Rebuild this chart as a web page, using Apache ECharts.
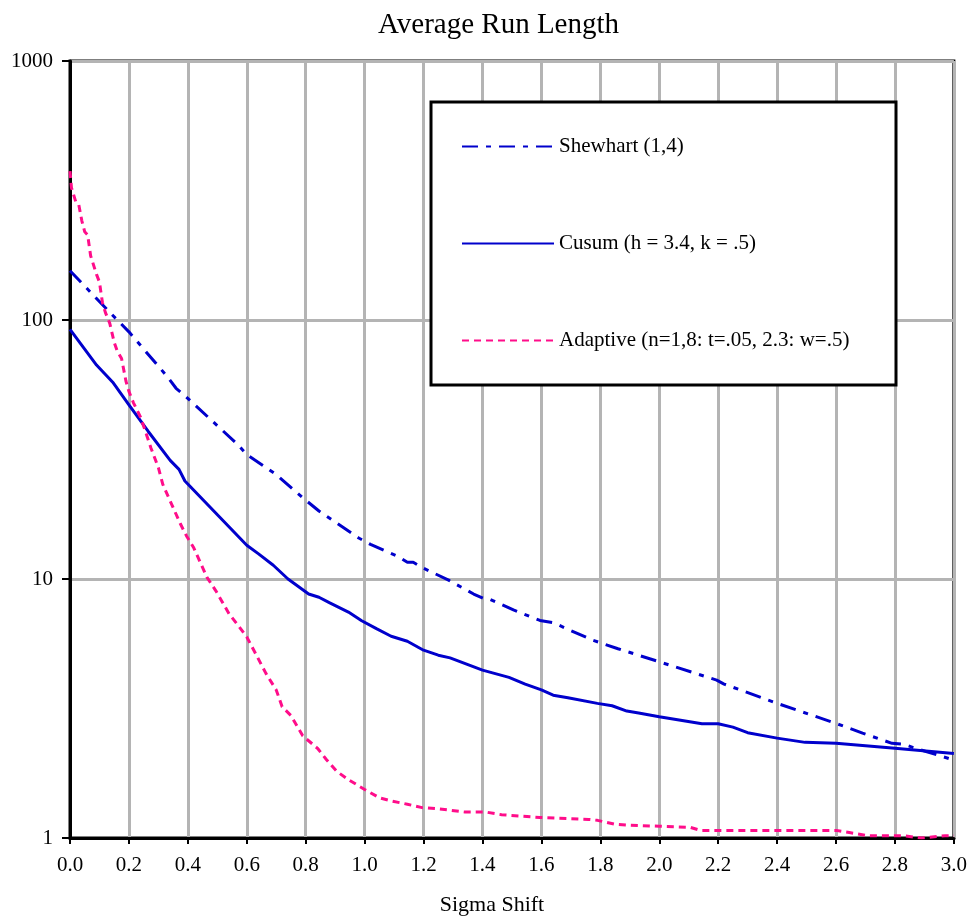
<!DOCTYPE html>
<html>
<head>
<meta charset="utf-8">
<script src="https://cdn.jsdelivr.net/npm/echarts@6/dist/echarts.min.js"></script>
<style>
html,body{margin:0;padding:0;background:#fff;}
#chart{width:970px;height:921px;}
</style>
</head>
<body>
<div id="chart"></div>
<script>
// ---- Data ----
const xTickLabels = ['0.0','0.2','0.4','0.6','0.8','1.0','1.2','1.4','1.6','1.8','2.0','2.2','2.4','2.6','2.8','3.0'];
const yTickLabels = ['1','10','100','1000'];
const seriesNames = ['Shewhart (1,4)', 'Cusum (h = 3.4, k = .5)', 'Adaptive (n=1,8: t=.05, 2.3: w=.5)'];

const shewhartX = [0, 0.135, 0.2, 0.33, 0.36, 0.39, 0.57, 0.6, 0.7, 0.79, 0.845, 0.98, 1.02, 1.115, 1.145, 1.165, 1.2, 1.285, 1.37, 1.41, 1.425, 1.505, 1.595, 1.645, 1.685, 1.775, 1.86, 2.0, 2.195, 2.22, 2.4, 2.6, 2.69, 2.79, 2.83, 2.87, 3.0];
const shewhartY = [155, 107, 90, 60.5, 54.5, 51, 33, 30.2, 25.3, 20.6, 18.3, 14.4, 13.6, 12.2, 11.6, 11.6, 11.0, 9.9, 8.75, 8.35, 8.35, 7.6, 6.92, 6.76, 6.43, 5.8, 5.38, 4.79, 4.07, 3.93, 3.31, 2.77, 2.54, 2.32, 2.3, 2.22, 2.0];

const cusumX = [0, 0.09, 0.145, 0.2, 0.265, 0.34, 0.37, 0.39, 0.6, 0.64, 0.69, 0.74, 0.81, 0.845, 0.88, 0.945, 0.99, 1.04, 1.09, 1.145, 1.2, 1.25, 1.29, 1.4, 1.49, 1.545, 1.6, 1.64, 1.69, 1.79, 1.84, 1.89, 1.93, 2.0, 2.145, 2.2, 2.25, 2.3, 2.4, 2.495, 2.6, 2.8, 3.0];
const cusumY = [92, 67, 57.5, 47, 37.2, 28.7, 26.5, 23.9, 13.5, 12.5, 11.3, 10.0, 8.75, 8.5, 8.1, 7.45, 6.9, 6.43, 6.01, 5.75, 5.31, 5.08, 4.96, 4.45, 4.17, 3.93, 3.73, 3.56, 3.48, 3.31, 3.24, 3.09, 3.04, 2.94, 2.76, 2.76, 2.68, 2.55, 2.43, 2.34, 2.32, 2.22, 2.12];

const adaptiveX = [0, 0.005, 0.02, 0.03, 0.04, 0.05, 0.06, 0.07, 0.09, 0.1, 0.11, 0.12, 0.135, 0.15, 0.16, 0.175, 0.19, 0.2, 0.215, 0.24, 0.26, 0.275, 0.3, 0.315, 0.34, 0.375, 0.395, 0.42, 0.445, 0.465, 0.495, 0.54, 0.575, 0.6, 0.63, 0.665, 0.7, 0.72, 0.75, 0.79, 0.84, 0.87, 0.905, 0.945, 1.0, 1.05, 1.09, 1.145, 1.195, 1.24, 1.34, 1.41, 1.465, 1.595, 1.76, 1.79, 1.85, 1.9, 2.0, 2.105, 2.14, 2.6, 2.645, 2.71, 2.83, 2.89, 2.97, 3.0];
const adaptiveY = [376, 324, 285, 278, 242, 219, 213, 177, 150, 140, 117, 107, 97, 82, 76, 71, 58, 53, 48, 42, 36, 32, 26.9, 23.2, 20, 16.3, 14.7, 13.2, 11.4, 10.15, 9.0, 7.34, 6.52, 5.97, 5.15, 4.32, 3.73, 3.21, 2.97, 2.48, 2.22, 2.01, 1.81, 1.68, 1.54, 1.43, 1.39, 1.35, 1.31, 1.30, 1.26, 1.26, 1.23, 1.20, 1.18, 1.17, 1.13, 1.12, 1.11, 1.10, 1.07, 1.07, 1.05, 1.02, 1.02, 1.0, 1.02, 1.02];

// ---- Build chart ----
const FONT = '"Liberation Serif", "Times New Roman", serif';
const pairs = (xs, ys) => xs.map((x, i) => [x, ys[i]]);

const chart = echarts.init(document.getElementById('chart'), null, {renderer: 'canvas'});
chart.setOption({
  animation: false,
  backgroundColor: '#fff',
  title: {
    text: 'Average Run Length',
    left: 373, top: 6,
    textStyle: {fontFamily: FONT, fontSize: 29, fontWeight: 'normal', color: '#000'}
  },
  grid: {
    left: 70, right: 12, top: 61, bottom: 79,
    show: true, borderColor: '#000', borderWidth: 3, backgroundColor: 'transparent'
  },
  xAxis: {
    type: 'value', min: 0, max: 3, interval: 0.2,
    name: 'Sigma Shift', nameLocation: 'middle', nameGap: 56,
    nameTextStyle: {fontFamily: FONT, fontSize: 22, color: '#000', padding: [0, 40, 0, 0]},
    axisLine: {show: true, onZero: false, lineStyle: {color: '#000', width: 3}},
    axisTick: {show: true, length: 6, lineStyle: {color: '#000', width: 2}},
    axisLabel: {
      fontFamily: FONT, fontSize: 21, color: '#000', margin: 17,
      formatter: v => xTickLabels[Math.round(v / 0.2)] || ''
    },
    splitLine: {show: true, lineStyle: {color: '#b4b4b4', width: 3}}
  },
  yAxis: {
    type: 'log', logBase: 10, min: 1, max: 1000,
    axisLine: {show: true, lineStyle: {color: '#000', width: 3}},
    axisTick: {show: true, length: 8, lineStyle: {color: '#000', width: 2}},
    axisLabel: {
      fontFamily: FONT, fontSize: 21, color: '#000', margin: 17,
      padding: [0, 0, 6, 0],
      formatter: v => yTickLabels[Math.round(Math.log10(v))] || ''
    },
    splitLine: {show: true, lineStyle: {color: '#b4b4b4', width: 3}},
    minorTick: {show: false}, minorSplitLine: {show: false}
  },
  graphic: [{
    type: 'rect', z: 10, zlevel: 0,
    shape: {x: 431, y: 102, width: 465, height: 283},
    style: {fill: '#fff', stroke: '#000', lineWidth: 3}
  }],
  legend: {
    z: 20, orient: 'vertical', left: 456, top: 131,
    itemWidth: 92, itemHeight: 20, itemGap: 76,
    itemStyle: {opacity: 0},
    textStyle: {fontFamily: FONT, fontSize: 21, color: '#000', lineHeight: 20},
    data: seriesNames
  },
  series: [
    {
      name: seriesNames[0], type: 'line', data: pairs(shewhartX, shewhartY),
      symbol: 'none', showSymbol: false, z: 3,
      lineStyle: {color: '#0000cc', width: 3, type: [16, 8, 5, 8]},
      itemStyle: {color: '#0000cc'}
    },
    {
      name: seriesNames[1], type: 'line', data: pairs(cusumX, cusumY),
      symbol: 'none', showSymbol: false, z: 3,
      lineStyle: {color: '#0000cc', width: 3, type: 'solid'},
      itemStyle: {color: '#0000cc'}
    },
    {
      name: seriesNames[2], type: 'line', data: pairs(adaptiveX, adaptiveY),
      symbol: 'none', showSymbol: false, z: 3,
      lineStyle: {color: '#ff0d8a', width: 3, type: [7, 5]},
      itemStyle: {color: '#ff0d8a'}
    }
  ]
});
</script>
</body>
</html>
